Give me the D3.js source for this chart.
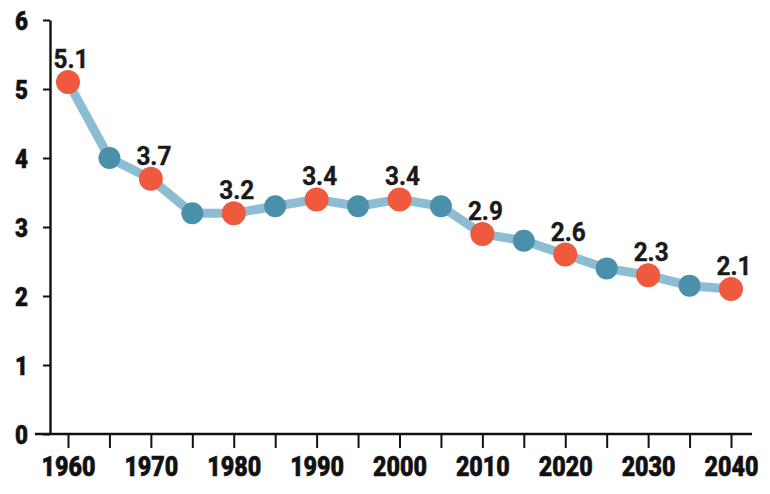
<!DOCTYPE html>
<html>
<head>
<meta charset="utf-8">
<script src="https://cdn.jsdelivr.net/npm/d3@7"></script>
<style>
  html, body { margin: 0; padding: 0; background: #fff; }
  svg { display: block; }
</style>
</head>
<body>
<svg id="chart" width="770" height="494"></svg>
<script>
// Fertility-rate style series: every five years, labelled each decade
const years = [1960, 1965, 1970, 1975, 1980, 1985, 1990, 1995, 2000, 2005, 2010, 2015, 2020, 2025, 2030, 2035, 2040];
const values = [5.1, 4.0, 3.7, 3.2, 3.2, 3.3, 3.4, 3.3, 3.4, 3.3, 2.9, 2.8, 2.6, 2.4, 2.3, 2.15, 2.1];
const labelledYears = [1960, 1970, 1980, 1990, 2000, 2010, 2020, 2030, 2040];
const yTicks = [0, 1, 2, 3, 4, 5, 6];
const xTickLabels = [1960, 1970, 1980, 1990, 2000, 2010, 2020, 2030, 2040];

const svg = d3.select("#chart");

const x = d3.scaleLinear().domain([1960, 2040]).range([68, 731]);
const y = d3.scaleLinear().domain([0, 6]).range([434, 20]);

const axisFont = "Roboto, 'Liberation Sans', Arial, sans-serif";

// Y axis
const yAxis = svg.append("g")
  .attr("transform", "translate(50,0)")
  .call(d3.axisLeft(y).tickValues(yTicks).tickSize(7).tickSizeOuter(0).tickFormat(d3.format("d")));
yAxis.select(".domain").attr("stroke", "#111").attr("stroke-width", 2.4);
yAxis.selectAll(".tick line").attr("stroke", "#111").attr("stroke-width", 2);
yAxis.selectAll(".tick text")
  .attr("x", -22)
  .attr("dy", "0.36em")
  .attr("textLength", 13)
  .attr("lengthAdjust", "spacingAndGlyphs")
  .style("font-family", axisFont)
  .style("font-weight", "900")
  .style("font-size", "25px")
  .attr("fill", "#111")
  .attr("stroke", "#111")
  .attr("stroke-width", 0.5);

// X axis
const xAxis = svg.append("g")
  .attr("transform", "translate(0,434)")
  .call(d3.axisBottom(x).tickValues(years).tickSize(14).tickSizeOuter(0)
    .tickFormat(d => xTickLabels.includes(d) ? d : ""));
xAxis.select(".domain").attr("d", "M35,0H752").attr("stroke", "#111").attr("stroke-width", 2.6);
xAxis.selectAll(".tick line").attr("stroke", "#111").attr("stroke-width", 2);
xAxis.selectAll(".tick text")
  .filter(d => xTickLabels.includes(d))
  .attr("y", 42)
  .attr("dy", 0)
  .attr("textLength", 54)
  .attr("lengthAdjust", "spacingAndGlyphs")
  .style("font-family", axisFont)
  .style("font-weight", "900")
  .style("font-size", "28px")
  .attr("fill", "#111")
  .attr("stroke", "#111")
  .attr("stroke-width", 0.6);

const data = years.map((yr, i) => ({ year: yr, value: values[i], labelled: labelledYears.includes(yr) }));

// Connecting line
svg.append("path")
  .datum(data)
  .attr("fill", "none")
  .attr("stroke", "#8dbdd2")
  .attr("stroke-width", 9)
  .attr("stroke-linejoin", "round")
  .attr("d", d3.line().x(d => x(d.year)).y(d => y(d.value)));

// Markers
svg.append("g").selectAll("circle")
  .data(data)
  .join("circle")
  .attr("cx", d => x(d.year))
  .attr("cy", d => y(d.value))
  .attr("r", d => d.labelled ? 12 : 11)
  .attr("fill", d => d.labelled ? "#ef5a3e" : "#4a90ab");

// Value labels on decade markers
svg.append("g").selectAll("text")
  .data(data.filter(d => d.labelled))
  .join("text")
  .attr("x", d => x(d.year) + 3)
  .attr("y", d => y(d.value) - 14)
  .attr("text-anchor", "middle")
  .attr("textLength", 35)
  .attr("lengthAdjust", "spacingAndGlyphs")
  .style("font-family", "Roboto, 'Liberation Sans', Arial, sans-serif")
  .style("font-weight", "bold")
  .style("font-size", "26px")
  .attr("fill", "#1a1a1a")
  .attr("stroke", "#1a1a1a")
  .attr("stroke-width", 0.4)
  .text(d => d.value.toFixed(1));
</script>
</body>
</html>
